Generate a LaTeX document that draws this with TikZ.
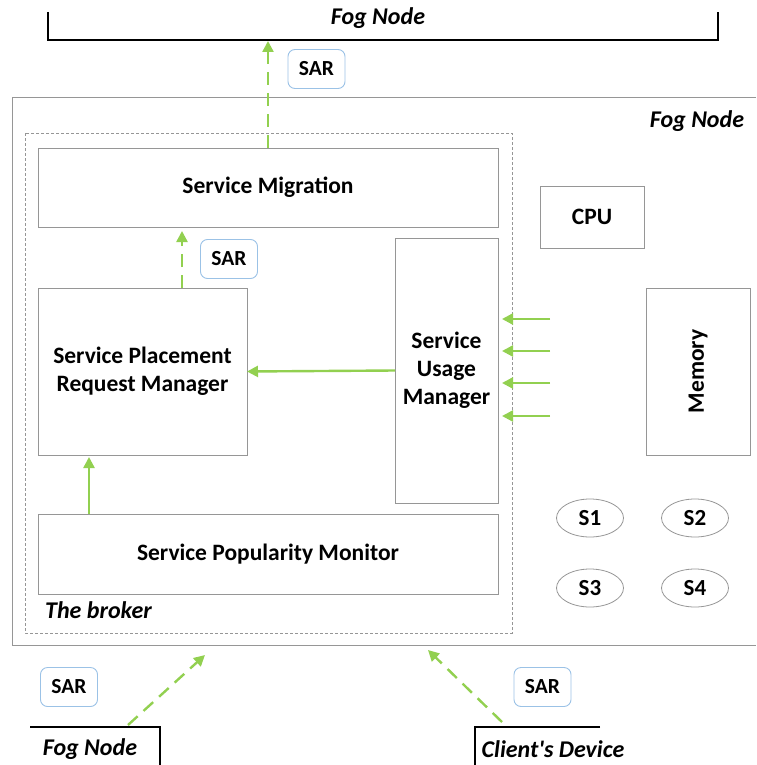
\documentclass[tikz,border=0pt]{standalone}
\usepackage{fontspec}
\setmainfont{Carlito}
\usetikzlibrary{arrows.meta,shapes.geometric}
\definecolor{gline}{RGB}{150,150,150}
\definecolor{agreen}{RGB}{146,208,80}
\definecolor{sarblue}{RGB}{155,194,230}
\tikzset{
  box/.style={draw=gline, line width=0.9pt, inner sep=2pt, outer sep=0pt, align=center,
     font=\fontsize{23.5}{28}\selectfont\bfseries},
  sarbox/.style={draw=sarblue, line width=0.9pt, rounded corners=7pt, minimum width=57pt,
     minimum height=39pt, inner sep=0pt, font=\fontsize{21.5}{23}\selectfont\bfseries},
  garrow/.style={draw=agreen, line width=2.4pt, -{Triangle[length=11pt,width=11pt]}},
  gdash/.style={garrow, dash pattern=on 13pt off 8pt},
  bracket/.style={draw=black, line width=2.2pt},
  lbl/.style={font=\fontsize{24}{28}\selectfont\bfseries\itshape, inner sep=0pt},
  svc/.style={ellipse, draw=gline, line width=0.8pt, minimum width=67pt, minimum height=38pt,
     inner sep=0pt, font=\fontsize{23}{26}\selectfont\bfseries},
}
\begin{document}
\begin{tikzpicture}[x=1pt,y=-1pt]
\useasboundingbox (0,0) rectangle (756,765);
% top fog node bracket
\draw[bracket] (48,12) -- (48,40) -- (718,40) -- (718,12);
\node[lbl] (topfog) at (378,18) {Fog Node};
\coordinate (topbar) at (268,41);
% outer fog node
\draw[draw=gline, line width=0.9pt] (756,97) -- (12,97) -- (12,645) -- (756,645);
\node[lbl] (fogin) at (697,121) {Fog Node};
% broker
\draw[draw=gline, line width=0.7pt, dash pattern=on 3pt off 2pt] (25,133) rectangle (512,633);
\node[lbl, anchor=west] (broker) at (45,610) {The broker};
% boxes
\node[box, minimum width=460pt, minimum height=79pt] (mig) at (268,187.5) {Service Migration};
\node[box, minimum width=209pt, minimum height=167pt] (sprm) at (142.5,371.5) {Service Placement\\Request Manager};
\node[box, minimum width=103pt, minimum height=265pt] (sum) at (446.5,370.5) {Service\\Usage\\Manager};
\node[box, minimum width=460pt, minimum height=80pt] (spm) at (268,554) {Service Popularity Monitor};
\node[box, minimum width=104pt, minimum height=62pt] (cpu) at (592,217) {CPU};
\node[box, minimum width=104pt, minimum height=167pt] (mem) at (698,371.5) {\rotatebox{90}{Memory}};
% services
\node[svc] (s1) at (590,518) {S1};
\node[svc] (s2) at (695,518) {S2};
\node[svc] (s3) at (590,588) {S3};
\node[svc] (s4) at (695,588) {S4};
% SAR labels
\node[sarbox] (sar1) at (316.5,69) {SAR};
\node[sarbox] (sar2) at (229,259) {SAR};
\node[sarbox] (sar3) at (69,687) {SAR};
\node[sarbox] (sar4) at (542.5,687) {SAR};
% internal arrows
\draw[gdash] (mig.north) -- (topbar);
\draw[gdash, shorten >=4pt] ([xshift=144pt]sprm.north west) -- ([xshift=144pt]mig.south west);
\draw[garrow] (sum.west) -- (sprm.east);
\draw[garrow, shorten >=2pt] ([xshift=51pt]spm.north west) -- ([xshift=51pt]sprm.south west);
% incoming arrows to usage manager
\coordinate (in1) at (550,319);
\coordinate (in2) at (550,351);
\coordinate (in3) at (550,383);
\coordinate (in4) at (550,416);
\foreach \c in {in1,in2,in3,in4}{
  \draw[garrow, shorten >=4pt] (\c) -- (sum.east |- \c);
}
% bottom brackets
\draw[bracket] (30,727) -- (160,727) -- (160,766);
\node[lbl] (botfog) at (90,749) {Fog Node};
\draw[bracket] (600,727) -- (475,727) -- (475,766);
\node[lbl] (client) at (553,749) {Client\textquotesingle s Device};
% bottom arrows
\coordinate (fogstart) at (128,725);
\coordinate (fogend) at (205,655);
\coordinate (clstart) at (502,722);
\coordinate (clend) at (428,650);
\draw[gdash] (fogstart) -- (fogend);
\draw[gdash] (clstart) -- (clend);
\end{tikzpicture}
\end{document}
